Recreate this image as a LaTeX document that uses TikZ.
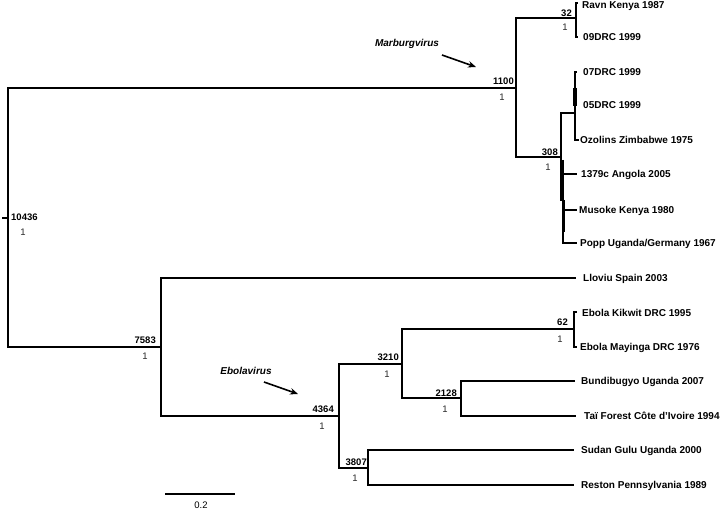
\documentclass[tikz,border=0pt]{standalone}
\usepackage{fontspec}
\setmainfont{Liberation Sans}
\usetikzlibrary{arrows.meta}
\tikzset{
  branch/.style={line width=1.8pt, line cap=rect},
  thickbar/.style={line width=3.2pt},
  leaf/.style={anchor=west, inner sep=0pt, text height=7.2pt, text depth=0pt, font=\fontsize{10}{12}\selectfont\bfseries},
  boot/.style={anchor=east, inner sep=0pt, text height=6.8pt, text depth=0pt, font=\fontsize{9.5}{11}\selectfont\bfseries},
  post/.style={inner sep=0pt, text height=6.8pt, text depth=0pt, font=\fontsize{9.5}{11}\selectfont, text=black!85},
  clade/.style={inner sep=0pt, font=\fontsize{10}{12}\selectfont\bfseries\itshape},
  pointer/.style={line width=1.6pt, -{Stealth[length=8pt,width=6.5pt]}}
}
\begin{document}
\begin{tikzpicture}[x=1pt,y=-1pt]
\useasboundingbox (0,0) rectangle (720,510);
% ---- internal nodes ----
\coordinate (roottick) at (3,218);
\coordinate (root) at (8,218);
\coordinate (marb) at (516,88);
\coordinate (n32) at (576,18);
\coordinate (n308) at (561,157);
\coordinate (sub1) at (575,113);
\coordinate (sub2) at (563,200);
\coordinate (n7583) at (161,347);
\coordinate (n4364) at (339,416);
\coordinate (n3210) at (402,364);
\coordinate (n3807) at (368,468);
\coordinate (n62) at (574,329);
\coordinate (n2128) at (461,398);
% ---- tips ----
\coordinate (tRavn) at (577,3);
\coordinate (t09) at (577,37);
\coordinate (t07) at (576,72);
\coordinate (t05) at (576,105);
\coordinate (tOzo) at (578,140);
\coordinate (t1379) at (576,174);
\coordinate (tMus) at (576,210);
\coordinate (tPopp) at (576,243);
\coordinate (tLlo) at (575,278);
\coordinate (tKik) at (576,312);
\coordinate (tMay) at (576,347);
\coordinate (tBun) at (574,381);
\coordinate (tTai) at (575,416);
\coordinate (tSud) at (573,450);
\coordinate (tRes) at (573,485);
% ---- branches ----
\draw[branch] (roottick) -- (root);
\draw[branch] (root) |- (marb);
\draw[branch] (root) |- (n7583);
\draw[branch] (marb) |- (n32);
\draw[branch] (marb) |- (n308);
\draw[branch] (n32) |- (tRavn);
\draw[branch] (n32) |- (t09);
\draw[branch] (n308) |- (sub1);
\draw[branch] (n308) |- (sub2);
\draw[branch] (sub1) |- (t07);
\draw[branch] (sub1) |- (t05);
\draw[branch] (sub1) |- (tOzo);
\draw[branch] (sub2) |- (t1379);
\draw[branch] (sub2) |- (tMus);
\draw[branch] (sub2) |- (tPopp);
\coordinate (bar1a) at (575,88);
\coordinate (bar1b) at (575,106);
\coordinate (bar2a) at (562,160);
\coordinate (bar2b) at (562,200);
\coordinate (bar3a) at (564,200);
\coordinate (bar3b) at (564,232);
\draw[thickbar] (bar1a) -- (bar1b);
\draw[thickbar] (bar2a) -- (bar2b);
\draw[line width=2.6pt] (bar3a) -- (bar3b);
\draw[branch] (n7583) |- (tLlo);
\draw[branch] (n7583) |- (n4364);
\draw[branch] (n4364) |- (n3210);
\draw[branch] (n4364) |- (n3807);
\draw[branch] (n3210) |- (n62);
\draw[branch] (n3210) |- (n2128);
\draw[branch] (n62) |- (tKik);
\draw[branch] (n62) |- (tMay);
\draw[branch] (n2128) |- (tBun);
\draw[branch] (n2128) |- (tTai);
\draw[branch] (n3807) |- (tSud);
\draw[branch] (n3807) |- (tRes);
% ---- tip labels ----
\node[leaf] (lRavn) at (582,5) {Ravn Kenya 1987};
\node[leaf] (l09) at (583,37) {09DRC 1999};
\node[leaf] (l07) at (583,72) {07DRC 1999};
\node[leaf] (l05) at (583,105) {05DRC 1999};
\node[leaf] (lOzo) at (580,140) {Ozolins Zimbabwe 1975};
\node[leaf] (l1379) at (581,174) {1379c Angola 2005};
\node[leaf] (lMus) at (579,210) {Musoke Kenya 1980};
\node[leaf] (lPopp) at (580,243) {Popp Uganda/Germany 1967};
\node[leaf] (lLlo) at (583,278) {Lloviu Spain 2003};
\node[leaf] (lKik) at (582,313) {Ebola Kikwit DRC 1995};
\node[leaf] (lMay) at (580,347) {Ebola Mayinga DRC 1976};
\node[leaf] (lBun) at (581,381) {Bundibugyo Uganda 2007};
\node[leaf] (lTai) at (584,416) {Taï Forest Côte d’Ivoire 1994};
\node[leaf] (lSud) at (581,450) {Sudan Gulu Uganda 2000};
\node[leaf] (lRes) at (581,485) {Reston Pennsylvania 1989};
% ---- node support values ----
\node[boot, anchor=west] (b10436) at (11,217) {10436};
\node[post] (p10436) at (23,232) {1};
\node[boot] (b1100) at (514,81) {1100};
\node[post] (p1100) at (502,97) {1};
\node[boot] (b32) at (572,13) {32};
\node[post] (p32) at (565,27) {1};
\node[boot] (b308) at (558,152) {308};
\node[post] (p308) at (548,167) {1};
\node[boot] (b7583) at (156,340) {7583};
\node[post] (p7583) at (145,356) {1};
\node[boot] (b4364) at (334,409) {4364};
\node[post] (p4364) at (322,426) {1};
\node[boot] (b3210) at (399,357) {3210};
\node[post] (p3210) at (387,374) {1};
\node[boot] (b62) at (568,322) {62};
\node[post] (p62) at (560,339) {1};
\node[boot] (b2128) at (457,393) {2128};
\node[post] (p2128) at (445,409) {1};
\node[boot] (b3807) at (367,462) {3807};
\node[post] (p3807) at (355,478) {1};
% ---- clade annotations ----
\node[clade] (cMarb) at (407,44) {Marburgvirus};
\coordinate (aMs) at (442,55);
\coordinate (aMe) at (476,67);
\draw[pointer] (aMs) -- (aMe);
\node[clade] (cEbo) at (246,371) {Ebolavirus};
\coordinate (aEs) at (264,382);
\coordinate (aEe) at (298,394);
\draw[pointer] (aEs) -- (aEe);
% ---- scale bar ----
\coordinate (sb1) at (165,494);
\coordinate (sb2) at (235,494);
\draw[line width=1.4pt] (sb1) -- (sb2);
\node[post, text=black] (sbl) at (201,505) {0.2};
\end{tikzpicture}
\end{document}
